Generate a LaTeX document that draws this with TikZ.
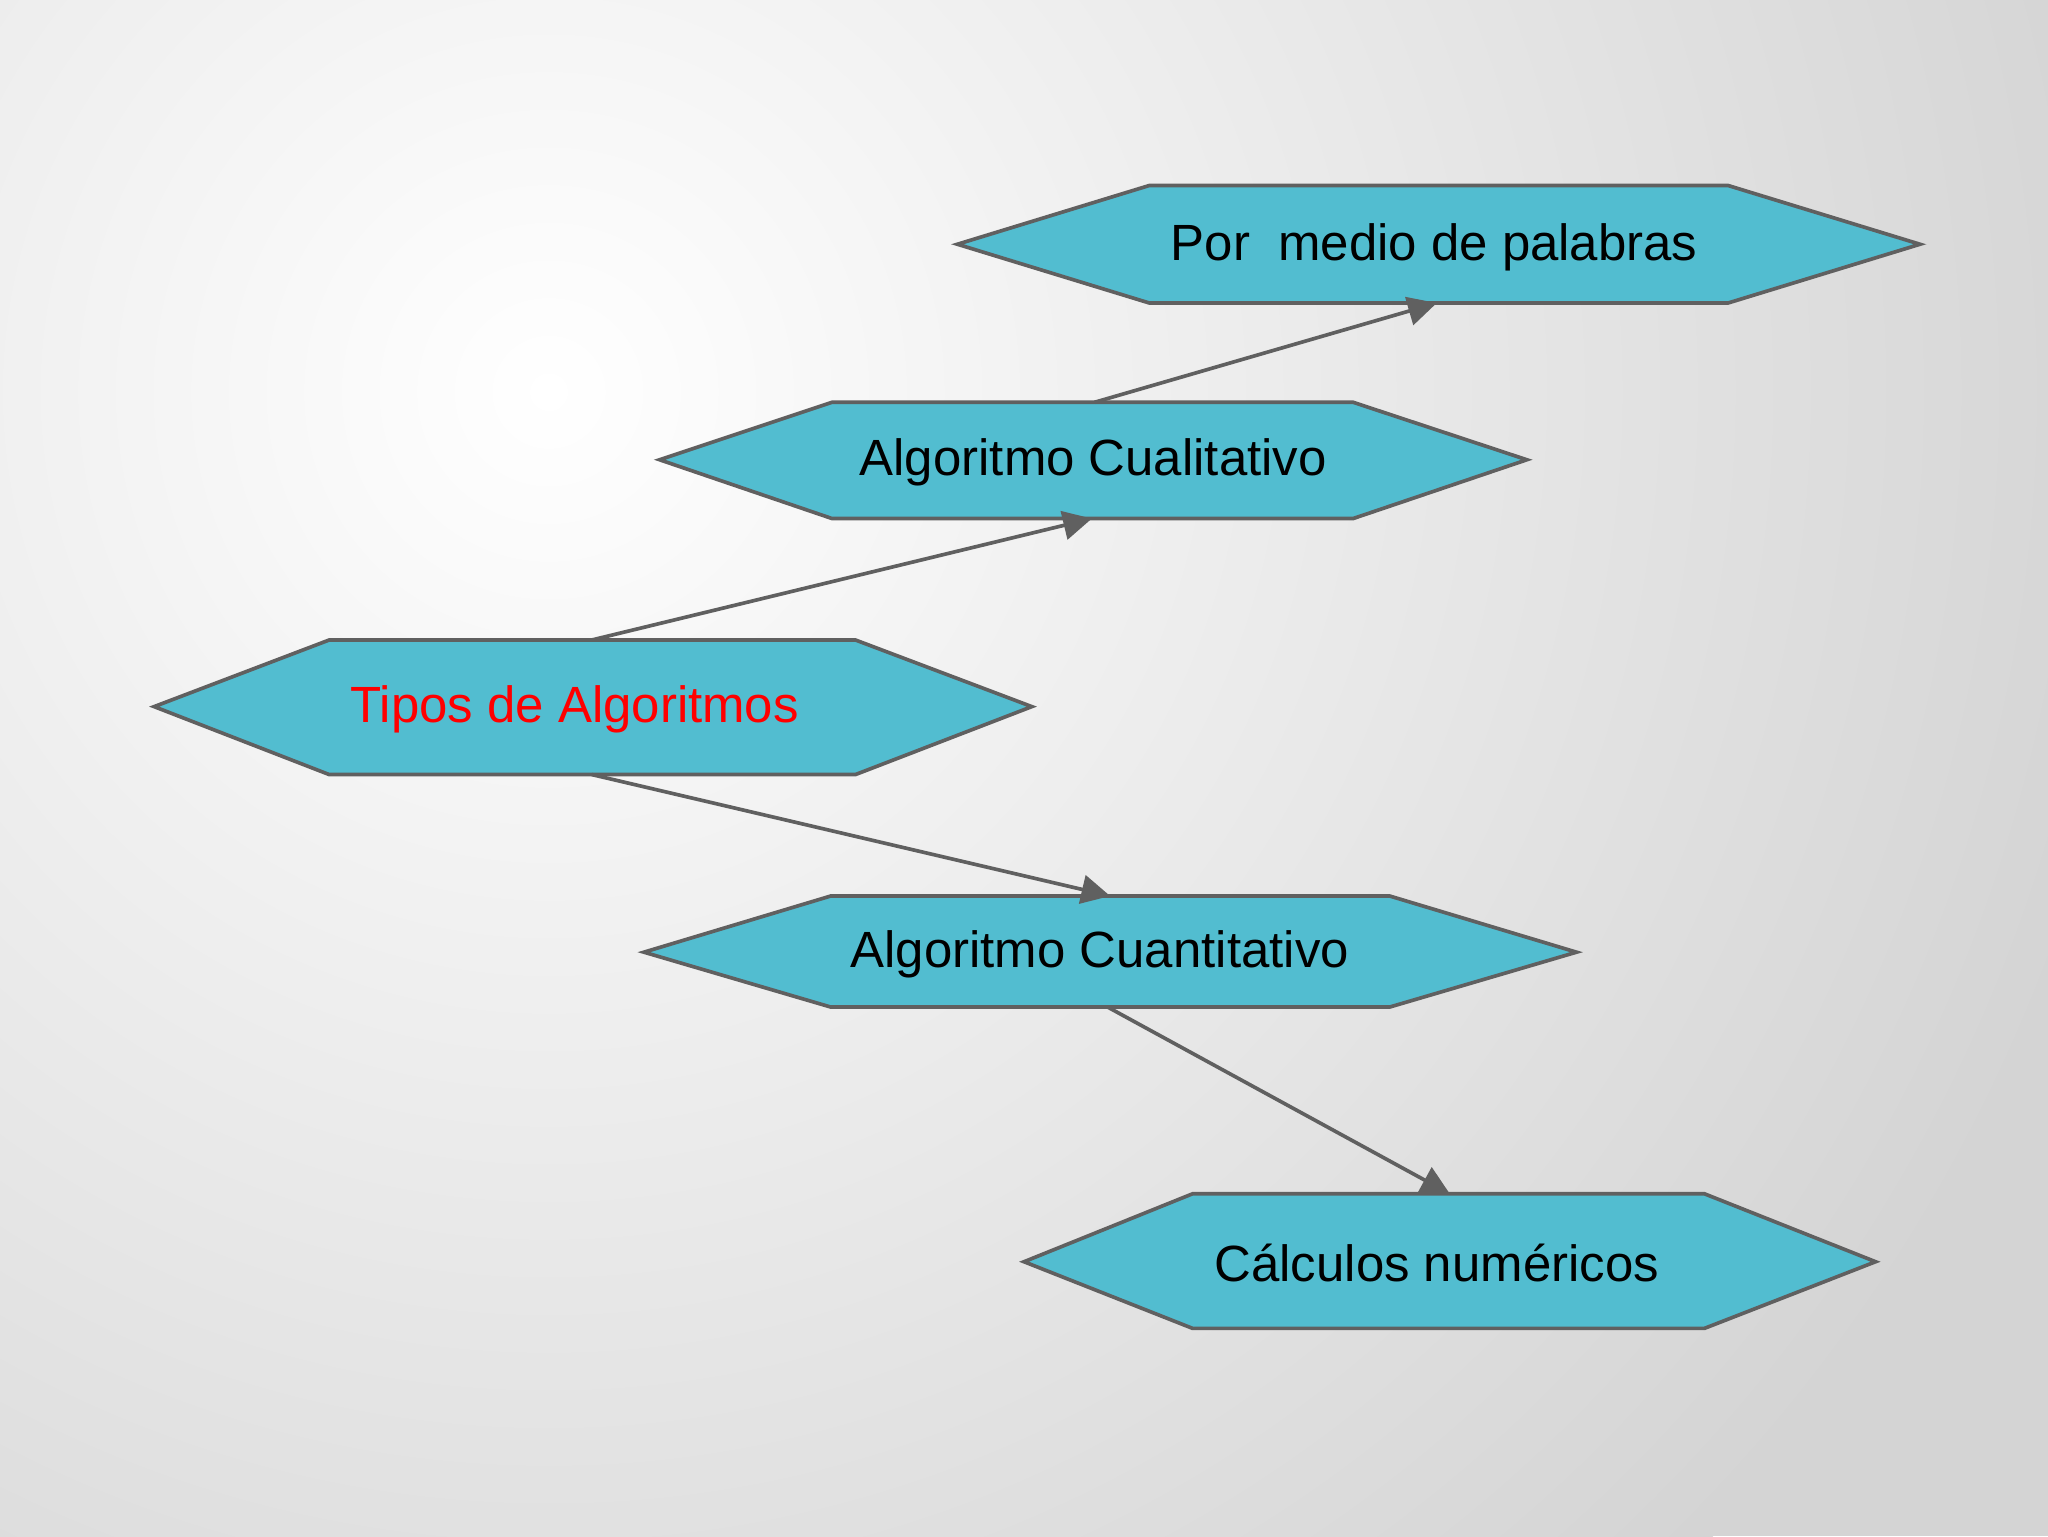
\documentclass[tikz,border=0pt]{standalone}
\usepackage{fontspec}
\setmainfont{Liberation Sans}
\usetikzlibrary{arrows.meta}
\definecolor{hexfill}{HTML}{52BDD0}
\definecolor{edge}{HTML}{606060}
\tikzset{
  hex/.style={fill=hexfill,draw=edge,line width=2.8pt,line join=miter},
  lbl/.style={font=\fontsize{39}{44}\selectfont,text=black,inner sep=0pt},
  conn/.style={draw=edge,line width=2.8pt,-{Triangle[length=22pt,width=22pt]}}
}
\begin{document}
\begin{tikzpicture}[x=1pt,y=-1pt]
\useasboundingbox (0,0) rectangle (1568,1176);
\begin{scope}
\clip (0,0) rectangle (1568,1176);
\fill[black!17] (0,0) rectangle (1568,1176);
\shade[inner color=white,outer color=black!17] (420,300) circle (1250);
\end{scope}
% hexagons
\path[hex] (733,187) -- (880,142) -- (1323,142) -- (1470,187) -- (1323,232) -- (880,232) -- cycle;
\path[hex] (505,352) -- (637,308) -- (1036,308) -- (1169,352) -- (1036,397) -- (637,397) -- cycle;
\path[hex] (118,541) -- (252,490) -- (655,490) -- (790,541) -- (655,593) -- (252,593) -- cycle;
\path[hex] (493,729) -- (636,686) -- (1064,686) -- (1207,729) -- (1064,771) -- (636,771) -- cycle;
\path[hex] (784,966) -- (913,914) -- (1305,914) -- (1436,966) -- (1305,1017) -- (913,1017) -- cycle;
% labels
\node[lbl] (pm) at (1098,189) {Por\ \ medio de palabras};
\node[lbl] (cl) at (837,354) {Algoritmo Cualitativo};
\node[lbl,text=red] (ti) at (440,543) {Tipos de Algoritmos};
\node[lbl] (cn) at (842,731) {Algoritmo Cuantitativo};
\node[lbl] (ca) at (1100,967) {Cálculos numéricos};
% connector ends
\coordinate (pmB) at (1100,232);
\coordinate (clT) at (838,308);
\coordinate (clB) at (836,397);
\coordinate (tiT) at (453,490);
\coordinate (tiB) at (453,593);
\coordinate (cnT) at (850,686);
\coordinate (cnB) at (848,771);
\coordinate (caT) at (1110,914);
\draw[conn] (clT) -- (pmB);
\draw[conn] (tiT) -- (clB);
\draw[conn] (tiB) -- (cnT);
\draw[conn] (cnB) -- (caT);
\end{tikzpicture}
\end{document}
